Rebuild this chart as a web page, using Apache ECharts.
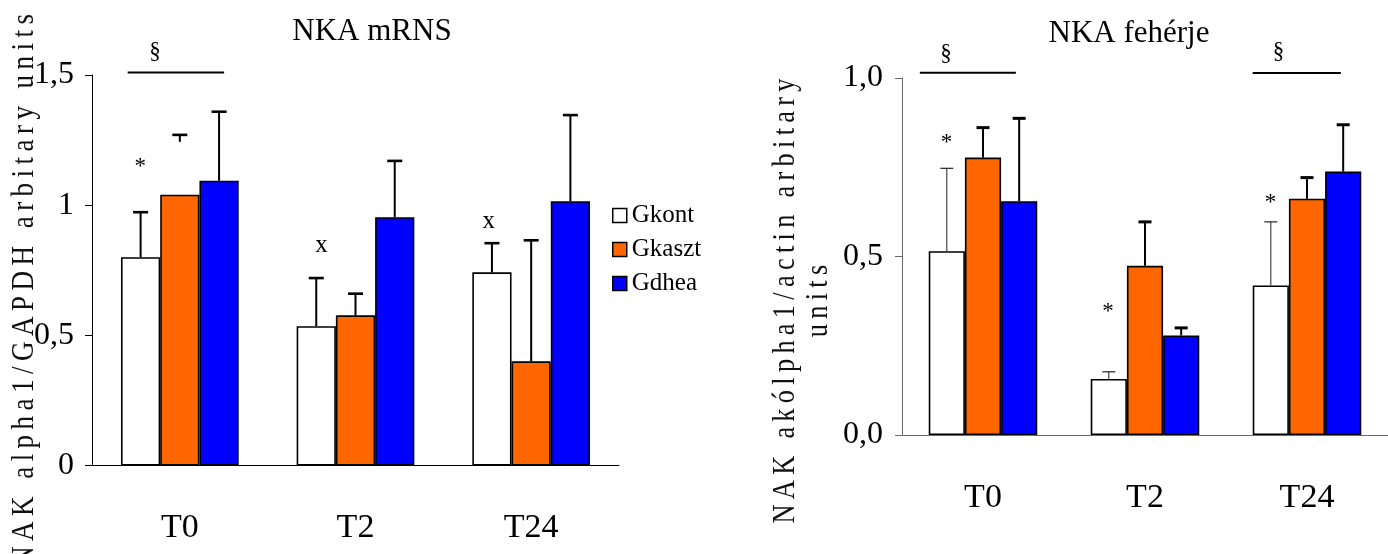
<!DOCTYPE html>
<html><head><meta charset="utf-8">
<script src="https://cdn.jsdelivr.net/npm/echarts@6/dist/echarts.min.js"></script>
<style>html,body{margin:0;padding:0;background:#fff}#c{width:1388px;height:554px}</style>
</head><body><div id="c"></div>
<script>
// ---------- data ----------
const categories = ['T0', 'T2', 'T24'];
const seriesNames = ['Gkont', 'Gkaszt', 'Gdhea'];

// NKA mRNS (alpha1/GAPDH)
const mrnsKont = [0.80, 0.535, 0.742];
const mrnsKontSd = [0.173, 0.185, 0.112];
const mrnsKaszt = [1.04, 0.577, 0.40];
const mrnsKasztSd = [0.23, 0.083, 0.465];
const mrnsDhea = [1.094, 0.954, 1.015];
const mrnsDheaSd = [0.265, 0.216, 0.331];
const mrnsTicks = [0, 0.5, 1, 1.5];

// NKA fehérje (alpha1/actin)
const protKont = [0.515, 0.157, 0.419];
const protKontSd = [0.232, 0.02, 0.178];
const protKaszt = [0.777, 0.474, 0.662];
const protKasztSd = [0.084, 0.123, 0.059];
const protDhea = [0.655, 0.279, 0.738];
const protDheaSd = [0.232, 0.021, 0.131];
const protTicks = [0, 0.5, 1.0];

// significance marks: [category index, value, offset in category bands, text]
const mrnsMarks = [[0, 1.147, -0.225, '*'], [1, 0.847, -0.193, 'x'], [2, 0.939, -0.241, 'x'], [0, 1.589, -0.142, '§']];
const mrnsLines = [[0, 1.51, -0.297, 0.252]];
const protMarks = [[0, 0.818, -0.225, '*'], [1, 0.345, -0.228, '*'], [2, 0.65, -0.225, '*'], [0, 1.068, -0.228, '§'], [2, 1.073, -0.176, '§']];
const protLines = [[0, 1.015, -0.39, 0.203], [2, 1.014, -0.335, 0.209]];

// ---------- styling ----------
const FONT = 'Liberation Serif';
const COLORS = ['#FFFFFF', '#FF6600', '#0000FF'];
const GAP = 0.33;

const chart = echarts.init(document.getElementById('c'), null, {renderer: 'canvas'});

function barSeries(g, name, vals, color) {
  return {
    type: 'bar', name: name, xAxisIndex: g, yAxisIndex: g,
    data: vals, barGap: '0%', barCategoryGap: (GAP * 100) + '%',
    itemStyle: {color: color, borderColor: '#000', borderWidth: 1.6},
    emphasis: {disabled: true}, animation: false, z: 2
  };
}
function errSeries(g, k, vals, sds, opts) {
  return {
    type: 'custom', xAxisIndex: g, yAxisIndex: g, z: 3, animation: false, silent: true,
    data: vals.map((v, i) => [i, v, sds[i]]),
    encode: {x: 0, y: 1},
    renderItem: function (params, api) {
      const ci = api.value(0), m = api.value(1), sd = api.value(2);
      const band = api.size([1, 0])[0];
      const bw = band * (1 - GAP) / 3;
      const top = api.coord([ci, m + sd]);
      const base = api.coord([ci, m]);
      const x = top[0] + (k - 1) * bw;
      const partial = opts.partial && opts.partial(ci);
      const stemBottom = partial ? top[1] + 7 : base[1];
      return {
        type: 'group', children: [
          {type: 'line', shape: {x1: x, y1: top[1], x2: x, y2: stemBottom},
            style: {stroke: opts.color, lineWidth: opts.stem}},
          {type: 'line', shape: {x1: x - opts.cap / 2, y1: top[1], x2: x + opts.cap / 2, y2: top[1]},
            style: {stroke: opts.color, lineWidth: opts.capW}}
        ]
      };
    }
  };
}
function xAxis(g, color) {
  return {
    type: 'category', gridIndex: g, data: categories,
    axisLine: {lineStyle: {color: color, width: 1}},
    axisTick: {length: 13, lineStyle: {color: color, width: 1}},
    axisLabel: {margin: 46, fontSize: 34, fontFamily: FONT, color: '#000'},
    splitLine: {show: false}
  };
}
function yAxis(g, color, ticks, fmt, margin) {
  return {
    type: 'value', gridIndex: g, min: ticks[0], max: ticks[ticks.length - 1],
    interval: ticks[1] - ticks[0],
    axisLine: {show: true, lineStyle: {color: color, width: 1}},
    axisTick: {show: true, length: 7, lineStyle: {color: color, width: 1}},
    axisLabel: {margin: margin, fontSize: 32, fontFamily: FONT, color: '#000', formatter: fmt},
    splitLine: {show: false}
  };
}

const thick = {color: '#000', stem: 2, capW: 2.6, cap: 15};
const thickR = {color: '#000', stem: 2, capW: 3, cap: 13};
const thinR = {color: '#222', stem: 1, capW: 1.2, cap: 13};

const option = {
  backgroundColor: '#fff',
  animation: false,
  title: [
    {text: 'NKA mRNS', left: 372, top: 16, textAlign: 'center', padding: 0,
      textStyle: {fontFamily: FONT, fontSize: 31, fontWeight: 'normal', color: '#000'}},
    {text: 'NKA fehérje', left: 1129, top: 18, textAlign: 'center', padding: 0,
      textStyle: {fontFamily: FONT, fontSize: 31, fontWeight: 'normal', color: '#000'}}
  ],
  legend: {
    data: seriesNames, orient: 'vertical', left: 612, top: 203, padding: 0,
    itemWidth: 14, itemHeight: 14, itemGap: 9, icon: 'rect', selectedMode: false,
    itemStyle: {borderColor: '#000', borderWidth: 1.5},
    textStyle: {fontFamily: FONT, fontSize: 25, color: '#000', lineHeight: 25}
  },
  grid: [
    {left: 92, top: 75, width: 527, height: 390.5},
    {left: 902, top: 78, width: 490, height: 357}
  ],
  xAxis: [xAxis(0, '#000'), xAxis(1, '#6a6a6a')],
  yAxis: [
    yAxis(0, '#000', mrnsTicks, v => String(v).replace('.', ','), 18),
    yAxis(1, '#6a6a6a', protTicks, v => v.toFixed(1).replace('.', ','), 19)
  ],
  series: [
    barSeries(0, 'Gkont', mrnsKont, COLORS[0]),
    barSeries(0, 'Gkaszt', mrnsKaszt, COLORS[1]),
    barSeries(0, 'Gdhea', mrnsDhea, COLORS[2]),
    errSeries(0, 0, mrnsKont, mrnsKontSd, thick),
    errSeries(0, 1, mrnsKaszt, mrnsKasztSd, Object.assign({partial: ci => ci === 0}, thick)),
    errSeries(0, 2, mrnsDhea, mrnsDheaSd, thick),
    barSeries(1, 'Gkont', protKont, COLORS[0]),
    barSeries(1, 'Gkaszt', protKaszt, COLORS[1]),
    barSeries(1, 'Gdhea', protDhea, COLORS[2]),
    errSeries(1, 0, protKont, protKontSd, thinR),
    errSeries(1, 1, protKaszt, protKasztSd, thickR),
    errSeries(1, 2, protDhea, protDheaSd, thickR)
  ]
};
chart.setOption(option);

// ---------- annotations & rotated axis titles ----------
const TS = '\u2009';
function spaced(s) { return s.split(' ').map(w => w.split('').join(TS)).join(TS + ' ' + TS); }
function measure(text, size) {
  const c = document.createElement('canvas').getContext('2d');
  c.font = size + 'px "' + FONT + '"';
  return c.measureText(text).width;
}
const graphics = [];
function addMarks(g, marks, lines) {
  const p0 = chart.convertToPixel({gridIndex: g}, [0, 0]);
  const p1 = chart.convertToPixel({gridIndex: g}, [1, 0]);
  const band = p1[0] - p0[0];
  marks.forEach(([ci, v, dx, t]) => {
    const p = chart.convertToPixel({gridIndex: g}, [ci, v]);
    graphics.push({type: 'text', x: p[0] + dx * band, y: p[1], z: 10,
      style: {text: t, fontSize: (t === 'x' ? 25 : 23), fontFamily: FONT, fill: '#000', align: 'center', verticalAlign: 'middle'}});
  });
  lines.forEach(([ci, v, a, b]) => {
    const p = chart.convertToPixel({gridIndex: g}, [ci, v]);
    graphics.push({type: 'line', z: 10,
      shape: {x1: p[0] + a * band, y1: p[1], x2: p[0] + b * band, y2: p[1]},
      style: {stroke: '#000', lineWidth: 2}});
  });
}
addMarks(0, mrnsMarks, mrnsLines);
addMarks(1, protMarks, protLines);

const TSIZE = 31;
const leftTitle = spaced('NAK alpha1/GAPDH arbitary units');
const lw = measure(leftTitle, TSIZE);
graphics.push({type: 'text', x: 25, y: 290, rotation: Math.PI / 2, scaleX: 552 / lw, scaleY: 1, z: 10,
  style: {text: leftTitle, fontSize: TSIZE, fontFamily: FONT, fill: '#111', align: 'center', verticalAlign: 'middle'}});

const rightL1 = spaced('NAK akólpha1/actin arbitary');
const rightL2 = spaced('units');
const rw = measure(rightL1, TSIZE);
graphics.push({type: 'text', x: 802, y: 301, rotation: Math.PI / 2, scaleX: 445 / rw, scaleY: 1, z: 10,
  style: {text: rightL1 + '\n' + rightL2, fontSize: TSIZE, fontFamily: FONT, lineHeight: 33, fill: '#111', align: 'center', verticalAlign: 'middle'}});

chart.setOption({graphic: graphics});
</script>
</body></html>
